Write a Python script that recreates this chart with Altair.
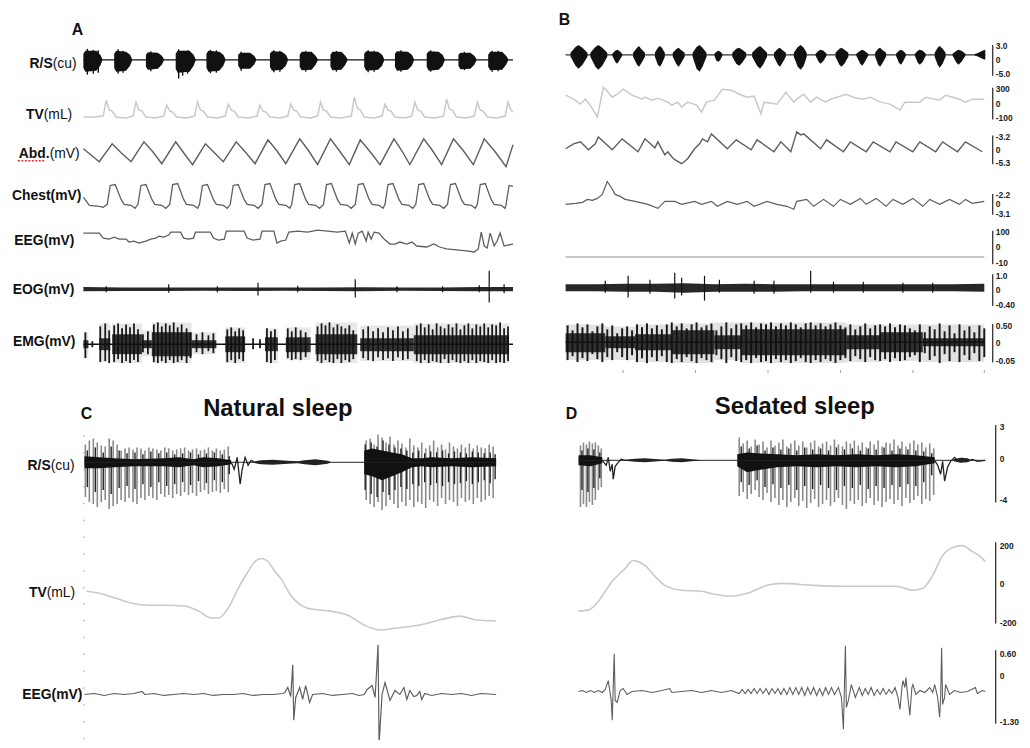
import altair as alt
import pandas as pd

W, H = 1022, 732
OFF = 8
FONT = "Liberation Sans"


def P(v):
    return v - OFF


# time scale of each panel: data domain (s) -> page pixel span
PANEL_X = {
    "A": ([0, 43.3], [84, 517]),
    "B": ([0, 42.3], [570, 993]),
    "C": ([0, 41.5], [85, 500]),
    "D": ([0, 41.0], [583, 993]),
}

# ======================= Panel A =======================
a_rs_t = [
    [0.0, 0.2, 1.3, 1.7, 1.9], [3.1, 3.3, 4.3, 4.7, 4.9], [6.3, 6.5, 7.5, 7.9, 8.1],
    [9.3, 9.5, 10.7, 11.1, 11.3], [12.4, 12.6, 13.7, 14.1, 14.3], [15.6, 15.8, 16.8, 17.2, 17.4],
    [18.8, 19.0, 20.0, 20.4, 20.6], [21.8, 22.0, 23.0, 23.4, 23.6], [24.9, 25.1, 26.0, 26.4, 26.6],
    [28.3, 28.5, 29.7, 30.1, 30.3], [31.4, 31.6, 32.7, 33.1, 33.3], [34.6, 34.8, 35.8, 36.2, 36.4],
    [37.8, 38.0, 39.0, 39.4, 39.6], [40.8, 41.0, 42.2, 42.6, 42.8]]
a_rs_hi = [
    [6, 9, 9, 5, 1], [6, 9, 8, 5, 1], [5, 7.5, 7, 4, 1],
    [6, 9, 9, 5, 1], [6, 9, 8, 5, 1], [5, 7, 7, 4, 1],
    [6, 8.5, 8, 5, 1], [5, 8, 8, 4, 1], [5, 8, 8, 4, 1],
    [6, 8.5, 8, 5, 1], [6, 8.5, 8, 5, 1], [6, 8.5, 8, 5, 1],
    [5, 7, 7, 4, 1], [5, 8, 8, 4, 1]]
a_rs_lo = [
    [-8, -12, -11, -6, -1], [-8, -12, -11, -6, -1], [-7, -10, -9, -5, -1],
    [-9, -13, -12, -6, -1], [-8, -12, -11, -6, -1], [-6, -9, -9, -5, -1],
    [-7, -11, -10, -6, -1], [-7, -10.5, -10, -5, -1], [-7, -10.5, -10, -5, -1],
    [-7, -11, -10, -6, -1], [-7, -11, -10, -6, -1], [-7, -11, -10, -6, -1],
    [-6, -9.5, -9, -5, -1], [-7, -10.5, -10, -5, -1]]
a_rs_pk_t = [0.4, 1.0, 1.5, 3.5, 4.0, 6.8, 9.6, 10.0, 10.5, 12.8, 13.4, 15.9, 19.2, 19.8,
             22.4, 25.5, 28.7, 29.3, 32.0, 35.0, 38.4, 41.2, 41.8]
a_rs_pk_hi = [11, 10, 9.5, 10.5, 9, 8.5, 10.5, 9, 9.5, 10, 9.5, 8, 9.5, 9,
              9, 9, 9.5, 9, 9.5, 9.5, 8, 9, 9]
a_rs_pk_lo = [-15, -14, -13, -14, -13, -11.5, -19, -16, -14, -13.5, -13, -11, -12.5, -12,
              -12, -12, -12.5, -12, -12, -12, -10.5, -12, -11.5]

a_tv_t = [0.0, 1.0,
          2.0, 2.3, 2.6, 2.9, 3.3, 4.3,
          5.0, 5.3, 5.6, 5.9, 6.3, 7.3,
          8.1, 8.4, 8.7, 9.0, 9.4, 10.4,
          11.2, 11.5, 11.8, 12.1, 12.5, 13.5,
          14.3, 14.6, 14.9, 15.2, 15.6, 16.6,
          17.5, 17.8, 18.1, 18.4, 18.8, 19.8,
          20.6, 20.9, 21.2, 21.5, 21.9, 22.9,
          23.6, 23.9, 24.2, 24.5, 24.9, 25.9,
          27.0, 27.3, 27.6, 27.9, 28.3, 29.3,
          30.1, 30.4, 30.7, 31.0, 31.4, 32.4,
          33.1, 33.4, 33.7, 34.0, 34.4, 35.4,
          36.3, 36.6, 36.9, 37.2, 37.6, 38.6,
          39.4, 39.7, 40.0, 40.3, 40.7, 41.7,
          42.5, 42.8, 43.1, 43.3]
a_tv_v = [-7, -7,
          -6, 10, 0, -1, -7, -8,
          -6, 8, 0, -1, -7, -8,
          -6, 5, -1, -2, -7, -8,
          -6, 8, 0, -1, -7, -8,
          -6, 6, 0, -1, -7, -8,
          -6, 5, -1, -2, -7, -8,
          -6, 6, 0, -1, -7, -8,
          -6, 8, 0, -1, -7, -8,
          -6, 13, 2, 0, -7, -8,
          -6, 6, 0, -1, -7, -8,
          -6, 8, 0, -1, -7, -8,
          -6, 11, 1, 0, -7, -8,
          -6, 8, 0, -1, -7, -8,
          -6, 8, 0, -2]

a_abd_t = [0.0, 1.6, 2.9, 3.8, 4.8, 6.1, 7.0, 7.9, 9.3, 10.1, 11.0, 12.3, 13.2, 14.1,
           15.4, 16.3, 17.3, 18.6, 19.5, 20.4, 21.8, 22.7, 23.6, 24.9, 25.8, 26.8,
           27.9, 28.9, 29.9, 31.3, 32.1, 32.9, 34.3, 35.2, 36.1, 37.3, 38.3, 39.3,
           40.4, 41.5, 42.6, 43.3]
a_abd_v = [4, -9, 9, 0, -9, 11, 1, -11, 11, 0, -12, 9, 0, -9,
           11, 1, -11, 13, 2, -11, 14, 2, -12, 14, 2, -12,
           13, 1, -12, 14, 2, -12, 14, 2, -12, 14, 2, -12,
           14, 1, -14, 8]

a_chest_t = [0.0, 0.6, 1.6, 2.0,
             2.4, 2.7, 3.2, 3.8, 4.1, 4.8, 5.2,
             5.5, 5.8, 6.3, 6.9, 7.2, 7.9, 8.3,
             8.7, 9.0, 9.5, 10.1, 10.4, 11.1, 11.5,
             11.7, 12.0, 12.5, 13.1, 13.4, 14.1, 14.5,
             14.8, 15.1, 15.6, 16.2, 16.5, 17.2, 17.6,
             18.0, 18.3, 18.8, 19.4, 19.7, 20.4, 20.8,
             21.0, 21.3, 21.8, 22.4, 22.7, 23.4, 23.8,
             24.2, 24.5, 25.0, 25.6, 25.9, 26.6, 27.0,
             27.4, 27.7, 28.2, 28.8, 29.1, 29.8, 30.2,
             30.4, 30.7, 31.2, 31.8, 32.1, 32.8, 33.2,
             33.5, 33.8, 34.3, 34.9, 35.2, 35.9, 36.3,
             36.7, 37.0, 37.5, 38.1, 38.4, 39.1, 39.5,
             39.7, 40.0, 40.5, 41.1, 41.4, 42.1, 42.5,
             42.6, 42.9, 43.3]
a_chest_v = [-2, -10, -11, -12,
             -9, 10, 11, -4, -9, -10, -13,
             -9, 10, 11, -4, -9, -10, -13,
             -9, 11, 12, -4, -9, -10, -13,
             -9, 10, 11, -4, -9, -10, -13,
             -9, 10, 11, -4, -9, -10, -13,
             -9, 11, 12, -4, -9, -10, -13,
             -9, 11, 12, -4, -9, -10, -13,
             -9, 11, 12, -4, -9, -10, -13,
             -9, 11, 12, -4, -9, -10, -13,
             -9, 11, 12, -4, -9, -10, -13,
             -9, 11, 12, -4, -9, -10, -13,
             -9, 11, 12, -4, -9, -10, -13,
             -9, 11, 12, -4, -9, -10, -13,
             -9, 10, 9]

a_eeg_t = [0.0, 1.6, 2.0, 2.6, 3.1, 3.6, 4.3, 4.6, 5.1, 5.6, 6.3, 6.8, 7.3, 7.6, 8.1, 8.6,
           8.8, 9.8, 10.1, 10.6, 11.1, 11.3, 12.8, 13.1, 13.6, 14.2, 14.4, 16.2, 16.5,
           17.1, 17.8, 18.0, 19.2, 19.5, 19.9, 20.4, 20.7, 21.6, 22.6, 23.6, 24.6, 25.6,
           26.4, 26.8, 27.1, 27.4, 27.7, 28.1, 28.5, 28.7, 29.0, 29.3, 29.8, 30.3, 30.9,
           31.4, 31.9, 32.6, 33.1, 33.6, 34.6, 35.3, 35.9, 36.6, 37.6, 38.6, 39.4, 39.8,
           40.1, 40.4, 40.7, 41.0, 41.4, 41.7, 42.0, 42.4, 42.8, 43.3]
a_eeg_v = [8, 8, 3, 2, 4, 2, 2, -1, 0, -2, 0, 2, 3, 5, 4, 6,
           9, 9, 3, 2, 3, 9, 9, 3, 1, 2, 10, 10, 3,
           1, 2, 10, 10, -2, 0, 1, 9, 10, 9, 11, 10, 9,
           10, -2, 8, -3, 8, 10, 0, 9, 2, 9, 8, 2, -3,
           -3, -1, -3, -1, -5, -6, -3, -6, -8, -9, -10, -11, -8,
           9, -5, -7, 8, -5, 0, 8, -5, -4, -3]

a_eog_t = [0, 4, 8, 12, 16, 20, 24, 28, 32, 36, 40, 43.3]
a_eog_hi = [2.2, 1.8, 1.8, 1.6, 1.8, 1.6, 1.8, 2.0, 1.6, 1.8, 2.2, 2.2]
a_eog_lo = [-2.2, -1.8, -1.8, -1.6, -1.8, -1.6, -1.8, -2.0, -1.6, -1.8, -2.2, -2.2]
a_eog_sp_t = [2.3, 8.6, 13.5, 17.6, 21.6, 27.4, 31.6, 36.2, 39.9, 40.9, 42.4]
a_eog_sp_hi = [3, 5, 3, 6.5, 3.5, 10, 3, 3, 4, 18.5, 5]
a_eog_sp_lo = [-3, -3.5, -3, -6.5, -3, -8.5, -3, -3, -3, -13.5, -4]

a_emg_t0 = [0.0, 1.6, 2.9, 5.9, 6.9, 10.9, 14.3, 18.3, 20.4, 23.4, 27.9, 33.3]
a_emg_t1 = [0.5, 2.7, 5.9, 6.9, 10.9, 13.4, 16.3, 19.6, 22.9, 27.6, 33.3, 42.9]
a_emg_out_hi = [12, 21, 21, 14, 22, 12, 17, 16, 17, 22, 19, 21]
a_emg_out_lo = [-14, -18, -19, -12, -19, -10, -19, -19, -16, -19, -17, -19]
a_emg_core_hi = [4, 6, 10, 4, 12, 4, 8, 7, 7, 10, 6, 9]
a_emg_core_lo = [-4, -6, -10, -4, -12, -4, -8, -7, -8, -10, -7, -10]
a_emg_sp_t = [0.2, 0.9, 1.7, 2.2, 2.6, 3.1, 3.5, 3.9, 4.3, 4.7,
              5.1, 5.5, 6.0, 6.5, 7.1, 7.5, 7.9, 8.3, 8.7, 9.1,
              9.5, 9.9, 10.4, 10.8, 11.4, 12.0, 12.6, 13.1, 14.5, 14.9,
              15.3, 15.7, 16.1, 17.1, 17.8, 18.5, 18.9, 19.3, 20.6, 21.0,
              21.4, 21.9, 22.4, 23.6, 24.0, 24.4, 24.8, 25.2, 25.6, 26.0,
              26.4, 26.8, 27.2, 28.2, 28.7, 29.2, 29.7, 30.2, 30.7, 31.2,
              31.7, 32.2, 32.7, 33.6, 34.0, 34.4, 34.8, 35.2, 35.6, 36.0,
              36.4, 36.8, 37.2, 37.6, 38.0, 38.4, 38.8, 39.2, 39.6, 40.0,
              40.4, 40.8, 41.2, 41.6, 42.0, 42.4, 42.8]
a_emg_sp_hi = [12, 3, 18, 21, 14, 19, 21, 16, 20, 17,
               21, 15, 10, 13, 20, 22, 18, 21, 19, 22,
               17, 20, 16, 12, 10, 12, 9, 11, 15, 17,
               13, 16, 14, 6, 5, 16, 13, 15, 16, 13,
               17, 14, 12, 18, 21, 19, 22, 17, 20, 18,
               16, 19, 14, 15, 18, 13, 16, 12, 17, 14,
               18, 13, 16, 19, 21, 17, 20, 15, 21, 18,
               16, 20, 17, 21, 15, 19, 21, 16, 20, 18,
               21, 17, 20, 19, 22, 16, 18]
a_emg_sp_lo = [-14, -3, -18, -17, -19, -18, -15, -19, -17, -19,
               -16, -18, -8, -10, -18, -19, -17, -19, -16, -19,
               -18, -16, -19, -14, -8, -10, -7, -9, -18, -16,
               -19, -15, -17, -5, -4, -18, -19, -16, -14, -16,
               -15, -16, -13, -17, -19, -16, -18, -19, -15, -19,
               -16, -18, -15, -14, -16, -17, -13, -16, -14, -17,
               -13, -16, -15, -17, -19, -16, -19, -17, -18, -19,
               -15, -19, -16, -18, -19, -17, -19, -16, -19, -17,
               -18, -19, -16, -19, -18, -19, -17]

# ======================= Panel B =======================
b_rs_t = [
    [0.5, 1.0, 1.3, 1.7, 2.2], [2.5, 3.0, 3.3, 3.7, 4.2], [4.7, 5.0, 5.2, 5.4, 5.7],
    [6.8, 7.2, 7.4, 7.6, 8.0], [9.0, 9.3, 9.5, 9.7, 10.0], [10.8, 11.2, 11.4, 11.6, 12.0],
    [12.8, 13.2, 13.5, 13.8, 14.2], [15.0, 15.2, 15.4, 15.6, 15.8], [16.8, 17.2, 17.5, 17.8, 18.2],
    [18.8, 19.3, 19.6, 19.9, 20.3], [21.0, 21.4, 21.6, 21.8, 22.2], [23.0, 23.4, 23.7, 24.0, 24.3],
    [25.2, 25.5, 25.7, 26.0, 26.3], [27.2, 27.6, 27.8, 28.1, 28.5], [29.3, 29.7, 29.9, 30.1, 30.5],
    [31.2, 31.5, 31.7, 31.9, 32.3], [33.3, 33.6, 33.8, 34.0, 34.3], [35.2, 35.5, 35.7, 36.0, 36.3],
    [37.2, 37.5, 37.7, 38.0, 38.3], [39.0, 39.4, 39.6, 39.9, 40.3], [41.2, 41.6, 42.0, 42.3]]
b_rs_hi = [
    [2, 8, 10, 7, 2], [2, 8, 10, 7, 2], [1, 4, 5, 4, 1],
    [2, 7, 9, 6, 2], [2, 7, 9, 7, 2], [2, 6, 7, 5, 2],
    [2, 8, 10, 7, 2], [1, 3, 4, 3, 1], [2, 6, 7, 5, 2],
    [2, 7, 9, 6, 2], [2, 6, 7, 5, 2], [2, 8, 10, 7, 2],
    [1, 4, 5, 4, 1], [2, 6, 7, 5, 2], [1, 4, 5, 4, 1],
    [2, 6, 7, 5, 2], [1, 4, 5, 4, 1], [1, 4, 5, 4, 1],
    [2, 7, 9, 6, 2], [1, 4, 5, 4, 1], [0.5, 2, 4, 5]]
b_rs_lo = [
    [-2, -11, -14, -10, -2], [-2, -12, -15, -11, -2], [-1, -7, -9, -6, -1],
    [-2, -10, -12, -9, -2], [-2, -10, -12, -9, -2], [-2, -10, -12, -9, -2],
    [-2, -14, -17, -12, -2], [-1, -6, -7, -5, -1], [-2, -9, -11, -8, -2],
    [-2, -11, -14, -10, -2], [-2, -10, -12, -9, -2], [-2, -12, -15, -11, -2],
    [-1, -7, -9, -6, -1], [-2, -10, -12, -9, -2], [-1, -9, -11, -8, -1],
    [-2, -10, -12, -9, -2], [-1, -8, -10, -7, -1], [-1, -8, -10, -7, -1],
    [-2, -10, -13, -9, -2], [-1, -8, -10, -7, -1], [-0.5, -2, -4, -5]]

b_tv_t = [0.0, 0.8, 1.5, 2.0, 2.6, 3.2, 3.8, 4.3, 4.7, 5.2, 5.8, 6.7, 7.7, 8.0, 8.7, 9.3,
          10.3, 10.7, 11.3, 11.7, 12.3, 13.2, 13.7, 14.2, 15.0, 15.8, 16.7, 17.5, 18.3,
          19.0, 19.7, 20.0, 21.3, 21.7, 22.2, 23.0, 23.3, 24.0, 24.7, 25.3, 26.2, 26.7,
          28.3, 29.0, 30.0, 30.7, 31.7, 32.7, 33.7, 34.2, 35.7, 36.3, 37.7, 38.3, 39.7,
          40.3, 41.0, 42.2]
b_tv_v = [7, 3, -2, 3, -5, -15, 15, 10, 5, 8, 13, 7, 3, 5, 2, 4,
          0, -3, 0, -5, 0, -3, -10, 0, 2, 13, 12, 8, 5,
          6, -12, 0, -2, 3, 10, 0, 3, 8, 0, 5, 0, 3,
          8, 5, 3, 5, 0, -2, -8, 0, 0, 5, 2, 7, 3,
          0, 3, 3]

b_abd_t = [0.0, 0.8, 1.5, 2.3, 3.0, 3.3, 4.7, 5.7, 7.3, 8.0, 9.0, 9.3, 10.0, 10.3, 10.7,
           11.0, 11.7, 12.3, 13.0, 13.5, 13.8, 14.3, 14.7, 16.3, 17.2, 18.7, 19.3, 21.0,
           21.7, 22.7, 23.3, 23.7, 24.0, 25.7, 26.3, 28.0, 28.7, 30.3, 31.0, 32.7, 33.3,
           35.0, 35.7, 37.3, 38.0, 39.5, 40.3, 42.0]
b_abd_v = [0, 5, 7, -1, 5, 12, -1, 10, -3, 10, 1, 7, -6, -3, -8,
           -11, -15, -10, 0, 5, 10, 7, 15, 0, 9, -1, 9, -3,
           7, -3, 17, 14, 15, 0, 9, -3, 7, -3, 7, -3, 7,
           -3, 7, -3, 7, -3, 7, -3]

b_chest_t = [0.0, 1.0, 1.7, 2.2, 2.7, 3.2, 3.7, 4.2, 4.6, 5.0, 5.5, 6.0, 7.0, 8.3, 9.3,
             10.0, 11.0, 11.7, 13.0, 13.7, 14.7, 15.3, 16.3, 17.3, 18.3, 19.0, 20.3,
             21.3, 22.3, 23.0, 23.3, 24.3, 25.0, 26.0, 27.0, 27.7, 28.7, 29.7, 30.3,
             31.3, 32.3, 33.0, 34.0, 35.0, 36.0, 36.7, 37.7, 38.7, 39.7, 40.3, 41.0, 42.2]
b_chest_v = [-3, -2, -1, 2, 1, 3, 7, 20, 14, 7, 5, 2, 0, -3, -7,
             0, 0, -3, 0, -3, 0, -5, 0, -3, 0, -5, 0,
             -3, -5, -8, 0, 2, -5, 2, -5, 2, -3, 3, -3,
             3, -5, 2, -3, 3, -5, 2, -3, 2, -3, 2, -2, 0]

b_eeg_t = [0.0, 42.2]
b_eeg_v = [0, 0]

b_eog_t = [0, 3, 6, 9, 12, 15, 18, 21, 24, 27, 30, 33, 36, 39, 42.2]
b_eog_hi = [3.5, 3.5, 4, 4, 4.5, 3.5, 4, 3.5, 3.5, 3.5, 3.5, 3.5, 3.5, 3.5, 4]
b_eog_lo = [-3.5, -3.5, -4, -4, -5, -4, -4, -4, -3.5, -3.5, -3.5, -3.5, -3.5, -3.5, -4]
b_eog_sp_t = [4.0, 6.3, 8.5, 11.0, 11.7, 14.0, 15.5, 19.0, 21.0, 24.7, 27.0, 30.0, 34.0, 37.0]
b_eog_sp_hi = [7, 12, 8, 15, 10, 12, 8, 7, 7, 17, 6, 6, 5, 5]
b_eog_sp_lo = [-5, -10, -6, -11, -8, -13, -5, -6, -6, -5, -5, -5, -5, -5]

b_emg_t0 = [0.0, 4.0, 7.0, 10.7, 15.0, 17.7, 28.3, 31.7, 36.0]
b_emg_t1 = [4.0, 7.0, 10.7, 15.0, 17.7, 28.3, 31.7, 36.0, 42.2]
b_emg_out_hi = [18, 16, 18, 19, 20, 20, 18, 18, 18]
b_emg_out_lo = [-18, -18, -20, -21, -18, -21, -20, -19, -20]
b_emg_core_hi = [9, 6, 8, 12, 7, 13, 7, 10, 4]
b_emg_core_lo = [-10, -6, -8, -12, -7, -13, -7, -10, -4]
b_emg_sp_t = [0.2, 0.7, 1.2, 1.7, 2.2, 2.7, 3.2, 3.7, 4.2, 4.7,
              5.2, 5.7, 6.2, 6.7, 7.2, 7.7, 8.2, 8.7, 9.2, 9.7,
              10.2, 10.7, 11.2, 11.7, 12.2, 12.7, 13.2, 13.7, 14.2, 14.7,
              15.2, 15.7, 16.2, 16.7, 17.2, 17.7, 18.2, 18.7, 19.2, 19.7,
              20.2, 20.7, 21.2, 21.7, 22.2, 22.7, 23.2, 23.7, 24.2, 24.7,
              25.2, 25.7, 26.2, 26.7, 27.2, 27.7, 28.2, 28.7, 29.2, 29.7,
              30.2, 30.7, 31.2, 31.7, 32.2, 32.7, 33.2, 33.7, 34.2, 34.7,
              35.2, 35.7, 36.2, 36.7, 37.2, 37.7, 38.2, 38.7, 39.2, 39.7,
              40.2, 40.7, 41.2, 41.7, 42.2]
b_emg_sp_hi = [17, 12, 19, 15, 18, 11, 16, 19, 13, 17,
               9, 14, 16, 12, 18, 15, 19, 14, 17, 13,
               18, 20, 16, 19, 14, 18, 20, 15, 17, 19,
               12, 16, 20, 14, 18, 19, 17, 20, 15, 19,
               18, 20, 16, 19, 17, 20, 18, 15, 19, 20,
               17, 19, 16, 18, 20, 17, 15, 18, 13, 16,
               19, 14, 17, 18, 16, 19, 15, 18, 17, 14,
               12, 18, 10, 16, 13, 19, 11, 17, 9, 18,
               12, 16, 10, 17, 14]
b_emg_sp_lo = [-18, -14, -20, -16, -19, -12, -17, -20, -15, -18,
               -10, -15, -18, -13, -20, -16, -21, -15, -19, -14,
               -20, -21, -17, -20, -15, -19, -21, -16, -18, -20,
               -13, -17, -21, -15, -19, -20, -18, -21, -16, -20,
               -19, -21, -17, -20, -18, -21, -19, -16, -20, -21,
               -18, -20, -17, -19, -21, -18, -16, -19, -14, -17,
               -20, -15, -18, -19, -17, -20, -16, -19, -18, -15,
               -13, -20, -11, -18, -14, -21, -12, -19, -10, -20,
               -13, -18, -11, -19, -15]

b_time_ticks = [5.8, 13.1, 20.4, 27.7, 35.0, 42.2]

# right-hand scale labels of panel B (top, zero, bottom)
b_axis_labels = {
    "rs": ["3.0", "0", "-5.0"],
    "tv": ["300", "0", "-100"],
    "abd": ["-3.2", "0", "-5.3"],
    "chest": ["-2.2", "0", "-3.1"],
    "eeg": ["100", "0", "-10"],
    "eog": ["1.0", "0", "-0.40"],
    "emg": ["0.50", "0", "-0.05"],
}

# ======================= Panel C =======================
c_sp1_t = [0.1, 0.5, 0.9, 1.3, 1.7, 2.1, 2.5, 2.9, 3.3, 3.7, 4.1, 4.5, 4.9, 5.3, 5.7, 6.1,
           6.5, 6.9, 7.3, 7.7, 8.1, 8.5, 8.9, 9.3, 9.7, 10.1, 10.5, 10.9, 11.3, 11.7,
           12.1, 12.5, 12.9, 13.3, 13.7, 14.1, 14.5]
c_sp1_hi = [18, 22, 24, 20, 17, 16, 24, 22, 18, 12, 14, 15, 13, 15, 14, 12,
            15, 14, 13, 12, 15, 14, 12, 13, 14, 15, 12, 13, 14, 12,
            13, 15, 12, 14, 12, 13, 16]
c_sp1_lo = [-35, -40, -42, -45, -40, -38, -47, -44, -42, -38, -40, -36, -40, -42, -36, -38,
            -34, -36, -38, -32, -35, -33, -36, -32, -34, -30, -33, -31, -34, -30,
            -28, -32, -30, -29, -31, -27, -30]
c_sp2_t = [28.4, 28.8, 29.2, 29.6, 30.0, 30.4, 30.8, 31.2, 31.6, 32.0, 32.4, 32.8, 33.2,
           33.6, 34.0, 34.4, 34.8, 35.2, 35.6, 36.0, 36.4, 36.8, 37.2, 37.6, 38.0, 38.4,
           38.8, 39.2, 39.6, 40.0, 40.4, 40.8, 41.2]
c_sp2_hi = [22, 24, 18, 28, 25, 20, 26, 18, 22, 19, 15, 24, 17,
            15, 20, 14, 17, 22, 15, 18, 13, 20, 16, 14, 18, 15,
            19, 14, 17, 15, 14, 18, 16]
c_sp2_lo = [-38, -42, -45, -40, -48, -44, -38, -42, -46, -40, -44, -38, -45,
            -40, -42, -46, -38, -40, -44, -36, -42, -38, -40, -44, -36, -40,
            -38, -42, -36, -40, -38, -34, -36]
c_bk1_t = [0.3, 1.1, 1.9, 2.7, 3.5, 4.3, 5.1, 5.9, 6.7, 7.5, 8.3, 9.1, 9.9, 10.7, 11.5,
           12.3, 13.1, 13.9, 14.6]
c_bk1_hi = [12, 15, 10, 16, 12, 9, 10, 8, 11, 9, 10, 8, 9, 10, 8, 9, 10, 8, 6]
c_bk1_lo = [-25, -30, -28, -32, -26, -24, -27, -22, -25, -20, -24, -22, -20, -23, -19,
            -21, -18, -20, -12]
c_bk2_t = [28.3, 28.9, 29.5, 30.1, 30.7, 31.3, 31.9, 32.5, 33.1, 33.7, 34.3, 34.9, 35.5,
           36.1, 36.7, 37.3, 37.9, 38.5, 39.1, 39.7, 40.3, 40.9, 41.4]
c_bk2_hi = [18, 20, 16, 22, 18, 15, 14, 12, 10, 12, 9, 11, 10, 12, 9, 11, 10, 9, 11, 10,
            9, 10, 8]
c_bk2_lo = [-28, -32, -35, -30, -33, -28, -25, -27, -22, -24, -20, -23, -21, -24, -20,
            -22, -21, -19, -22, -20, -18, -21, -17]
c_core_t = [0.0, 1.5, 3.0, 5.0, 8.0, 9.5, 11.0, 12.0, 13.5, 14.8]
c_core_hi = [6, 5, 4, 3, 4, 5, 3, 5, 4, 2]
c_core_lo = [-6, -6, -5, -4, -4, -5, -3, -5, -4, -2]
c_core2_t = [28.2, 29.0, 30.0, 31.0, 32.0, 33.0, 34.0, 35.0, 37.0, 39.0, 41.5]
c_core2_hi = [12, 14, 12, 10, 8, 4, 4, 5, 4, 5, 4]
c_core2_lo = [-12, -14, -18, -14, -10, -5, -4, -5, -4, -5, -4]
c_gap_t = [14.8, 15.1, 15.4, 15.7, 15.9, 16.2, 16.5, 16.8, 17.2]
c_gap_v = [0, -7, 5, -22, -7, 5, -3, 2, 0]
c_quiet_t = [17.2, 17.8, 19.0, 20.5, 21.5, 22.2, 23.3, 24.5, 24.8]
c_quiet_hi = [1, 2, 2.5, 1.5, 1, 2, 3, 1.5, 0.5]
c_quiet_lo = [-1, -2, -2.5, -1.5, -1, -2, -3, -1.5, -0.5]

c_tv_t = [0.2, 1.5, 3.2, 4.8, 6.5, 8.2, 10.2, 11.5, 12.8, 13.5, 14.5, 15.5, 16.5, 17.3, 17.8,
          18.5, 19.2, 19.8, 20.8, 22.5, 24.8, 26.5, 28.2, 29.8, 31.5, 33.8, 35.8, 37.8,
          39.5, 41.5]
c_tv_v = [7, 5, 0, -5, -7, -7, -8, -13, -20, -20, -10, 10, 27, 38, 40,
          37, 27, 20, 3, -10, -13, -17, -27, -32, -30, -27, -22, -18,
          -22, -23]

c_eeg_t = [0.0, 1.0, 2.0, 3.0, 4.0, 5.0, 5.8, 6.1, 7.0, 8.0, 9.0, 10.0, 11.0, 12.0, 13.0,
           14.0, 15.0, 16.0, 17.0, 18.0, 19.0, 20.0, 20.2, 20.5, 20.8, 21.0, 21.1, 21.3,
           21.7, 22.0, 22.3, 22.7, 23.0, 24.0, 25.0, 26.0, 27.0, 27.7, 28.2, 28.5, 29.0,
           29.3, 29.6, 29.7, 30.0, 30.3, 30.8, 31.3, 31.8, 32.2, 32.5, 32.8, 33.2, 33.5,
           33.8, 34.0, 34.3, 35.0, 36.0, 37.0, 38.0, 39.0, 40.0, 41.5]
c_eeg_v = [0, 1, -1, 1, 0, 1, 3, 0, 1, -1, 0, 1, 0, 1, -1,
           0, 0, 1, -1, 0, 0, 1, 2, 7, -2, 30, -26, -3,
           7, -5, 9, -8, 0, 1, -1, 0, 1, -1, 0, 5, 9,
           -3, 50, -50, 0, 12, -6, 4, 0, 7, -5, 4, -2, -1,
           3, -5, 1, -1, 1, 0, 1, -1, 1, 0]
c_axis_ticks = [0, 1, 2, 3, 4, 5, 6, 7, 8, 9, 10, 11, 12, 13, 14, 15, 16, 17, 18]

# ======================= Panel D =======================
d_sp1_t = [0.2, 0.5, 0.8, 1.1, 1.4, 1.7, 2.0, 2.3]
d_sp1_hi = [15, 18, 16, 19, 17, 18, 15, 12]
d_sp1_lo = [-47, -44, -47, -42, -45, -40, -30, -27]
d_sp2_t = [16.2, 16.6, 17.0, 17.4, 17.8, 18.2, 18.6, 19.0, 19.4, 19.8,
           20.2, 20.6, 21.0, 21.4, 21.8, 22.2, 22.6, 23.0, 23.4, 23.8,
           24.2, 24.6, 25.0, 25.4, 25.8, 26.2, 26.6, 27.0, 27.4, 27.8,
           28.2, 28.6, 29.0, 29.4, 29.8, 30.2, 30.6, 31.0, 31.4, 31.8,
           32.2, 32.6, 33.0, 33.4, 33.8, 34.2, 34.6, 35.0, 35.4, 35.8]
d_sp2_hi = [23, 17, 20, 14, 21, 16, 19, 13, 20, 15,
            18, 21, 14, 17, 20, 15, 19, 13, 18, 20,
            14, 17, 19, 15, 21, 16, 14, 19, 17, 20,
            15, 18, 13, 19, 16, 20, 14, 18, 17, 21,
            15, 19, 14, 17, 20, 16, 18, 13, 17, 12]
d_sp2_lo = [-36, -32, -39, -34, -30, -37, -40, -33, -42, -38,
            -45, -40, -47, -42, -38, -46, -41, -48, -43, -39,
            -47, -44, -40, -46, -42, -38, -45, -49, -41, -44,
            -40, -46, -43, -38, -45, -41, -47, -42, -39, -44,
            -40, -46, -38, -43, -40, -36, -44, -39, -41, -35]
d_bk1_t = [0.35, 0.95, 1.55, 2.15]
d_bk1_hi = [10, 12, 11, 8]
d_bk1_lo = [-30, -32, -28, -18]
d_bk2_t = [16.4, 17.2, 18.0, 18.8, 19.6, 20.4, 21.2, 22.0, 22.8, 23.6, 24.4, 25.2, 26.0,
           26.8, 27.6, 28.4, 29.2, 30.0, 30.8, 31.6, 32.4, 33.2, 34.0, 34.8, 35.6]
d_bk2_hi = [14, 12, 15, 10, 13, 11, 12, 10, 13, 11, 12, 10, 13, 11, 12, 10, 12, 11, 13,
            10, 12, 11, 10, 9, 7]
d_bk2_lo = [-22, -25, -20, -27, -24, -28, -25, -30, -26, -29, -25, -28, -30, -26, -28,
            -25, -29, -26, -28, -25, -27, -24, -26, -22, -15]
d_core1_t = [0.0, 1.2, 2.4]
d_core1_hi = [5, 5, 3]
d_core1_lo = [-5, -6, -3]
d_core2_t = [16.0, 17.0, 18.0, 20.0, 22.0, 24.0, 26.0, 28.0, 30.0, 32.0, 34.0, 35.9]
d_core2_hi = [6, 8, 7, 6, 5, 6, 5, 6, 5, 6, 5, 3]
d_core2_lo = [-6, -12, -10, -7, -6, -7, -6, -7, -6, -7, -6, -3]
d_gap1_t = [2.4, 2.8, 3.0, 3.2, 3.4, 3.5, 3.7, 4.0, 4.3, 4.7]
d_gap1_v = [0, -5, 3, -11, -4, -19, -6, -2, 1, 0]
d_quiet_t = [4.7, 5.7, 6.7, 8.0, 8.7, 9.4, 10.4, 11.4, 12.2]
d_quiet_hi = [0.5, 1.5, 2, 1, 0.5, 1.5, 2, 1, 0.3]
d_quiet_lo = [-0.5, -1.5, -2, -1, -0.5, -1.5, -2, -1, -0.3]
d_gap2_t = [35.9, 36.2, 36.5, 36.7, 36.9, 37.2, 37.5, 37.9, 38.3, 38.7, 39.2, 39.7, 40.2, 41.0]
d_gap2_v = [0, -5, -14, -1, -21, -7, -1, 3, -1, 2, -1, 1, -1, 0]
d_quiet2_t = [37.8, 38.5, 39.2, 39.5]
d_quiet2_hi = [1, 2.5, 2, 0.5]
d_quiet2_lo = [-1, -2.5, -2, -0.5]

d_tv_t = [0.0, 1.0, 2.0, 2.7, 3.4, 4.7, 5.5, 6.2, 6.7, 7.7, 8.7, 10.4, 12.4, 13.7, 15.4,
          17.0, 19.0, 20.4, 23.7, 27.0, 30.4, 32.0, 33.7, 34.7, 35.7, 36.7, 37.7, 38.7,
          39.7, 40.4, 41.0]
d_tv_v = [-25, -24, -15, -5, 5, 18, 26, 24, 21, 10, 1, -4, -5, -8, -10,
          -7, 1, 3, 1, 0, 0, 0, -4, -2, 11, 31, 39, 41,
          35, 31, 25]

d_eeg_t = [0.0, 0.4, 0.8, 1.2, 1.6, 2.0, 2.4, 2.7, 3.0, 3.3, 3.4, 3.6, 3.7, 3.9, 4.2, 4.5,
           4.9, 5.4, 6.4, 7.4, 8.4, 9.2, 9.4, 10.4, 11.4, 12.4, 13.4, 14.4, 15.4, 16.2,
           16.5, 16.8, 17.1, 17.4,
           17.7, 18.0, 18.3, 18.6, 18.9, 19.2, 19.5, 19.8, 20.1, 20.4, 20.7, 21.0, 21.3,
           21.6, 21.9, 22.2, 22.5, 22.8, 23.1, 23.4, 23.7, 24.0, 24.3, 24.6, 24.9, 25.2,
           25.5, 25.8,
           26.2, 26.5, 26.7, 26.9, 27.0, 27.2, 27.5, 27.9, 28.3, 28.6, 28.9, 29.2, 29.5,
           29.8, 30.1, 30.4, 30.7, 31.0, 31.3, 31.6, 31.9, 32.2, 32.4, 32.6, 32.7, 32.9,
           33.0, 33.2, 33.4, 33.6, 33.7, 34.0, 34.4, 34.9, 35.4, 35.7, 35.9, 36.2, 36.4,
           36.5, 36.6, 36.7, 36.9, 37.0, 37.4, 37.9, 38.5, 39.2, 40.0, 40.2, 40.7, 41.0]
d_eeg_v = [0, 1, -1, 1, -1, 1, -1, 2, 11, -9, -29, 38, -9, -11, 1, 3,
           -3, 0, 1, -1, 1, 3, -1, 0, 1, -1, 1, -1, 1, -2,
           2, -2, 2, -2,
           3, -2, 3, -2, 3, -3, 3, -2, 3, -3, 3, -3, 4,
           -3, 4, -3, 4, -4, 4, -3, 4, -4, 3, -4, 4, -3,
           4, -3,
           4, -6, -38, 46, -16, -9, 7, -6, 4, -4, 3, -3, 4,
           -4, 2, -3, 3, -3, 2, -2, 4, -6, -18, 4, 11, 4,
           14, -6, -24, 4, 7, -3, 1, -1, 4, -1, 7, -6, -26,
           -6, 44, -13, -6, 7, -3, 1, -1, 0, 4, -2, 1, 0]

# right-hand scales of panel D (real units)
d_rs_ticks, d_rs_labels = [3, 0, -4], ["3", "0", "-4"]
d_tv_ticks, d_tv_labels = [200, 0, -200], ["200", "0", "-200"]
d_eeg_ticks, d_eeg_labels = [0.6, 0, -1.3], ["0.60", "0", "-1.30"]

# channel names (bold part, regular part)
a_names = [("R/S", "(cu)"), ("TV", "(mL)"), ("Abd.", "(mV)"), ("Chest(mV)", ""),
           ("EEG(mV)", ""), ("EOG(mV)", ""), ("EMG(mV)", "")]
c_names = [("R/S", "(cu)"), ("TV", "(mL)"), ("EEG(mV)", "")]
panel_letters = ["A", "B", "C", "D"]
titles = ["Natural sleep", "Sedated sleep"]

# ======================= helpers =======================
BLACK = "#111111"
DARK = "#5e5e5e"
LIGHT = "#c9c9c9"
SPIKE = "#8a8a8a"


def xenc(panel, field="t"):
    d, r = PANEL_X[panel]
    return alt.X(f"{field}:Q", axis=None,
                 scale=alt.Scale(domain=d, range=[P(r[0]), P(r[1])], nice=False, zero=False))


def yenc(c, field="v", h=60):
    return alt.Y(f"{field}:Q", axis=None,
                 scale=alt.Scale(domain=[-h, h], range=[P(c + h), P(c - h)], nice=False, zero=False))


def line(panel, c, t, v, color, w=1.2, interp="linear"):
    df = pd.DataFrame({"t": t, "v": v})
    return alt.Chart(df).mark_line(color=color, strokeWidth=w, interpolate=interp).encode(
        x=xenc(panel), y=yenc(c))


def band(panel, c, t, hi, lo, color, op=1.0, groups=None):
    df = pd.DataFrame({"t": t, "hi": hi, "lo": lo})
    enc = dict(x=xenc(panel), y=yenc(c, "hi"), y2=alt.Y2("lo"))
    if groups is not None:
        df["g"] = groups
        enc["detail"] = "g:N"
    return alt.Chart(df).mark_area(color=color, opacity=op).encode(**enc)


def spikes(panel, c, t, hi, lo, color, w=1.0, op=1.0):
    df = pd.DataFrame({"t": t, "hi": hi, "lo": lo})
    return alt.Chart(df).mark_rule(color=color, strokeWidth=w, opacity=op).encode(
        x=xenc(panel), y=yenc(c, "hi"), y2=alt.Y2("lo"))


def blocks(panel, c, t0, t1, hi, lo, color, op=1.0):
    df = pd.DataFrame({"t0": t0, "t1": t1, "hi": hi, "lo": lo})
    return alt.Chart(df).mark_rect(color=color, opacity=op).encode(
        x=xenc(panel, "t0"), x2=alt.X2("t1"), y=yenc(c, "hi"), y2=alt.Y2("lo"))


def text(s, x, y, size=14, weight="bold", align="right", color="#111111"):
    return alt.Chart(pd.DataFrame({"s": [s]})).mark_text(
        align=align, baseline="middle", fontSize=size, fontWeight=weight, font=FONT, color=color
    ).encode(x=alt.value(P(x)), y=alt.value(P(y)), text="s:N")


def b_axis(labels, y0, y1):
    df = pd.DataFrame({"lab": labels})
    return alt.Chart(df).mark_point(opacity=0).encode(
        y=alt.Y("lab:N", sort=None,
                scale=alt.Scale(type="point", domain=labels, range=[P(y0), P(y1)], padding=0.1),
                axis=alt.Axis(orient="right", offset=P(1000) - W, title=None, ticks=False,
                              domainColor="#222222", domainWidth=1.2, labelFont=FONT,
                              labelFontSize=8.5, labelFontWeight="bold", labelColor="#222222",
                              labelPadding=3, labelOverlap=False, grid=False)))


def d_axis(ticks, labels, ytop, ybot, yline0, yline1):
    expr = "'" + labels[-1] + "'"
    for v, s in zip(reversed(ticks[:-1]), reversed(labels[:-1])):
        expr = f"abs(datum.value - ({v})) < 1e-9 ? '{s}' : " + expr
    hi_v, lo_v = ticks[0], ticks[-1]
    k = (hi_v - lo_v) / (ybot - ytop)
    dom = [lo_v - (yline1 - ybot) * k, hi_v + (ytop - yline0) * k]
    df = pd.DataFrame({"v": [lo_v, hi_v]})
    return alt.Chart(df).mark_point(opacity=0).encode(
        y=alt.Y("v:Q",
                scale=alt.Scale(domain=dom, range=[P(yline1), P(yline0)], nice=False, zero=False),
                axis=alt.Axis(orient="right", offset=P(1003) - W, title=None, values=ticks,
                              labelExpr=expr, ticks=False, domainColor="#222222", domainWidth=1.2,
                              labelFont=FONT, labelFontSize=8.5, labelFontWeight="bold",
                              labelColor="#222222", labelPadding=4, labelOverlap=False,
                              grid=False)))


def flat(groups_t, groups_hi, groups_lo):
    t, hi, lo, g = [], [], [], []
    for i, (a, b, c) in enumerate(zip(groups_t, groups_hi, groups_lo)):
        t += a
        hi += b
        lo += c
        g += [i] * len(a)
    return t, hi, lo, g


layers = []

# ---------- Panel A ----------
A = "A"
at, ahi, alo, ag = flat(a_rs_t, a_rs_hi, a_rs_lo)
layers += [
    line(A, 57.3, [0, 43.3], [0, 0], BLACK, 1.3),
    band(A, 57.3, at, ahi, alo, BLACK, 1.0, ag),
    spikes(A, 57.3, a_rs_pk_t, a_rs_pk_hi, a_rs_pk_lo, BLACK, 1.4),
    line(A, 108, a_tv_t, a_tv_v, LIGHT, 1.5),
    line(A, 151, a_abd_t, a_abd_v, DARK, 1.4),
    line(A, 194, a_chest_t, a_chest_v, DARK, 1.3),
    line(A, 240, a_eeg_t, a_eeg_v, DARK, 1.3),
    band(A, 288.5, a_eog_t, a_eog_hi, a_eog_lo, BLACK, 0.9),
    spikes(A, 288.5, a_eog_sp_t, a_eog_sp_hi, a_eog_sp_lo, BLACK, 1.2),
    blocks(A, 344, a_emg_t0, a_emg_t1, a_emg_out_hi, a_emg_out_lo, BLACK, 0.1),
    spikes(A, 344, a_emg_sp_t, a_emg_sp_hi, a_emg_sp_lo, "#1a1a1a", 1.8),
    blocks(A, 344, a_emg_t0, a_emg_t1, a_emg_core_hi, a_emg_core_lo, BLACK, 0.85),
    line(A, 344, [0, 43.3], [0, 0], BLACK, 1.5),
]

# ---------- Panel B ----------
B = "B"
bt, bhi, blo, bg = flat(b_rs_t, b_rs_hi, b_rs_lo)
layers += [
    line(B, 52.3, [0, 42.3], [0, 0], "#333333", 1.2),
    band(B, 52.3, bt, bhi, blo, BLACK, 1.0, bg),
    line(B, 100, b_tv_t, b_tv_v, LIGHT, 1.5),
    line(B, 147, b_abd_t, b_abd_v, DARK, 1.4),
    line(B, 200, b_chest_t, b_chest_v, DARK, 1.2),
    line(B, 256, b_eeg_t, b_eeg_v, "#b5b5b5", 1.5),
    band(B, 287, b_eog_t, b_eog_hi, b_eog_lo, BLACK, 0.9),
    spikes(B, 287, b_eog_sp_t, b_eog_sp_hi, b_eog_sp_lo, BLACK, 1.2),
    blocks(B, 342, b_emg_t0, b_emg_t1, b_emg_out_hi, b_emg_out_lo, BLACK, 0.12),
    spikes(B, 342, b_emg_sp_t, b_emg_sp_hi, b_emg_sp_lo, "#1a1a1a", 2.0),
    blocks(B, 342, b_emg_t0, b_emg_t1, b_emg_core_hi, b_emg_core_lo, BLACK, 0.85),
    line(B, 342, [0, 42.2], [0, 0], BLACK, 1.5),
    alt.Chart(pd.DataFrame({"t": b_time_ticks})).mark_rule(color="#a0a0a0", strokeWidth=1).encode(
        x=xenc(B), y=alt.value(P(370)), y2=alt.value(P(373))),
    b_axis(b_axis_labels["rs"], 42, 73),
    b_axis(b_axis_labels["tv"], 85, 117),
    b_axis(b_axis_labels["abd"], 133, 162),
    b_axis(b_axis_labels["chest"], 192, 213),
    b_axis(b_axis_labels["eeg"], 229, 263),
    b_axis(b_axis_labels["eog"], 273, 305),
    b_axis(b_axis_labels["emg"], 323, 362),
]

# ---------- Panel C ----------
C = "C"
layers += [
    spikes(C, 463, c_sp1_t, c_sp1_hi, c_sp1_lo, SPIKE, 1.6),
    spikes(C, 463, c_sp2_t, c_sp2_hi, c_sp2_lo, SPIKE, 1.6),
    spikes(C, 463, c_bk1_t, c_bk1_hi, c_bk1_lo, "#222222", 1.4),
    spikes(C, 463, c_bk2_t, c_bk2_hi, c_bk2_lo, "#222222", 1.4),
    band(C, 463, c_core_t, c_core_hi, c_core_lo, BLACK),
    band(C, 463, c_core2_t, c_core2_hi, c_core2_lo, BLACK),
    band(C, 463, c_quiet_t, c_quiet_hi, c_quiet_lo, "#222222"),
    line(C, 463, [0, 41.5], [0, 0], "#222222", 1.0),
    line(C, 463, c_gap_t, c_gap_v, "#222222", 1.3),
    line(C, 600, c_tv_t, c_tv_v, LIGHT, 1.6, "monotone"),
    line(C, 697, c_eeg_t, c_eeg_v, DARK, 1.2),
    alt.Chart(pd.DataFrame({"v": [0, 18]})).mark_point(opacity=0).encode(
        y=alt.Y("v:Q", scale=alt.Scale(domain=[0, 18], range=[P(741), P(436)], nice=False, zero=False),
                axis=alt.Axis(orient="left", offset=-P(85), values=c_axis_ticks, labels=False,
                              domain=False, ticks=True, tickSize=2, tickWidth=1.5,
                              tickColor="#c8c8c8", grid=False, title=None))),
]

# ---------- Panel D ----------
D = "D"
layers += [
    spikes(D, 461, d_sp1_t, d_sp1_hi, d_sp1_lo, SPIKE, 1.6),
    spikes(D, 461, d_sp2_t, d_sp2_hi, d_sp2_lo, SPIKE, 1.6),
    spikes(D, 461, d_bk1_t, d_bk1_hi, d_bk1_lo, "#222222", 1.4),
    spikes(D, 461, d_bk2_t, d_bk2_hi, d_bk2_lo, "#222222", 1.4),
    band(D, 461, d_core1_t, d_core1_hi, d_core1_lo, BLACK),
    band(D, 461, d_core2_t, d_core2_hi, d_core2_lo, BLACK),
    band(D, 461, d_quiet_t, d_quiet_hi, d_quiet_lo, "#222222"),
    band(D, 461, d_quiet2_t, d_quiet2_hi, d_quiet2_lo, "#222222"),
    line(D, 461, [0, 41.0], [0, 0], "#222222", 1.0),
    line(D, 461, d_gap1_t, d_gap1_v, "#222222", 1.3),
    line(D, 461, d_gap2_t, d_gap2_v, "#222222", 1.3),
    line(D, 588, d_tv_t, d_tv_v, LIGHT, 1.6, "monotone"),
    line(D, 694, d_eeg_t, d_eeg_v, DARK, 1.1),
    d_axis(d_rs_ticks, d_rs_labels, 427, 501, 425, 503),
    d_axis(d_tv_ticks, d_tv_labels, 547, 624, 543, 625),
    d_axis(d_eeg_ticks, d_eeg_labels, 656, 724, 652, 726),
]

# ---------- text ----------
a_split = [53, 44, 50, 82, 75, 75, 76]
a_y = [62, 113, 152, 195, 240, 289, 342]
for (bold, reg), sx, sy in zip(a_names, a_split, a_y):
    layers.append(text(bold, sx, sy))
    if reg:
        layers.append(text(reg, sx, sy, weight="normal", align="left"))
c_split = [51, 47, 83]
c_y = [467, 595, 698]
for (bold, reg), sx, sy in zip(c_names, c_split, c_y):
    layers.append(text(bold, sx, sy))
    if reg:
        layers.append(text(reg, sx, sy, weight="normal", align="left"))

layers.append(alt.Chart(pd.DataFrame({"s": [0]})).mark_rule(
    color="#e03030", strokeWidth=1.5, strokeDash=[2, 1.5]).encode(
    x=alt.value(P(18)), x2=alt.value(P(45)), y=alt.value(P(159))))

for s, x, y in zip(panel_letters, [78, 569, 87, 576], [27, 17, 414, 414]):
    layers.append(text(s, x, y, size=16, align="center"))
for s, x, y in zip(titles, [280, 801], [409, 407]):
    layers.append(text(s, x, y, size=24, align="center"))

chart = alt.layer(*layers).resolve_scale(x="independent", y="independent").properties(
    width=W, height=H, padding=0, autosize=alt.AutoSizeParams(type="none")
).configure_view(stroke=None)

chart.save("out.html", embed_options={"renderer": "svg", "actions": False})
